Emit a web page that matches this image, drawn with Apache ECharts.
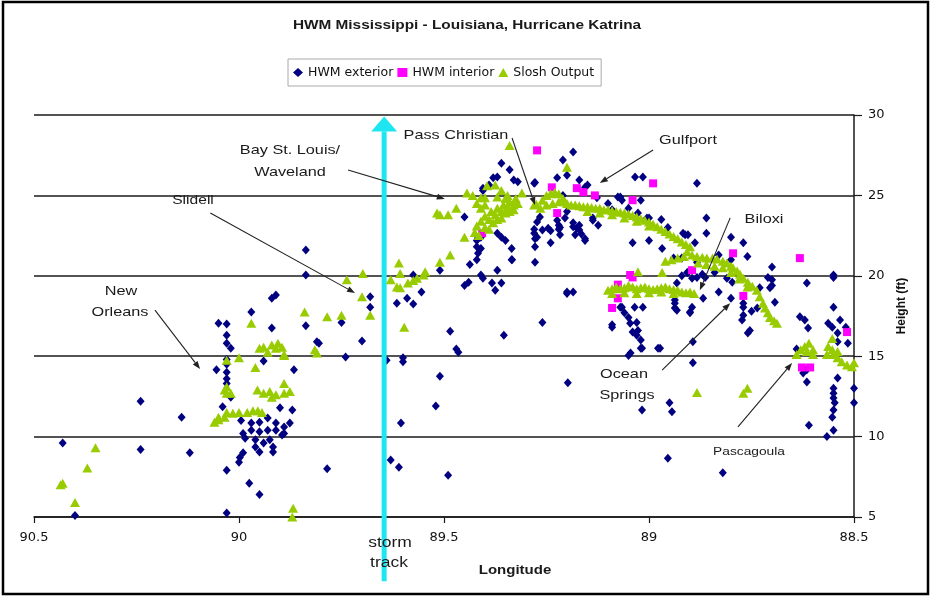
<!DOCTYPE html>
<html><head><meta charset="utf-8">
<script src="https://cdn.jsdelivr.net/npm/echarts@6/dist/echarts.min.js"></script>
<style>html,body{margin:0;padding:0;background:#fff}#c{width:932px;height:598px}</style>
</head><body><div id="c"></div>
<script>
// ---------- DATA ----------
const xTickValues = [90.5, 90, 89.5, 89, 88.5];
const yTickValues = [5, 10, 15, 20, 25, 30];

const hwmExterior = [
[90.43,9.6],[90.40,5.1],[90.24,12.2],[90.24,9.2],[90.14,11.2],[90.12,9.0],
[89.92,18.6],[89.91,18.8],[89.97,17.75],[90.05,17.05],[90.03,17.0],[89.92,16.75],[90.03,16.3],[90.03,15.8],[90.02,15.5],
[90.03,14.8],[90.03,14.5],[90.03,14.0],[90.03,13.6],[90.03,13.3],
[90.055,14.15],[89.94,14.7],[89.866,14.15],[89.837,16.9],[90.04,11.85],[90.02,12.45],[89.90,11.8],[89.87,11.65],
[89.995,11.0],[89.97,10.85],[89.95,10.9],[89.93,11.15],[89.91,10.85],[89.89,10.6],[89.876,10.85],[89.97,10.4],[89.95,10.3],[89.93,10.4],[89.91,10.4],[89.895,10.1],[89.99,10.2],[89.985,9.9],[89.96,9.8],[89.94,9.6],[89.925,9.8],[89.917,9.35],[89.96,9.35],[89.95,9.05],[89.99,9.0],[89.998,8.7],[90.0,8.4],[89.917,9.05],
[90.03,7.9],[89.975,7.1],[89.95,6.4],[90.03,5.25],[89.89,10.2],
[89.837,21.6],[89.837,20.05],[89.75,17.1],[89.81,15.9],[89.805,15.8],[89.70,15.95],[89.74,14.95],[89.68,18.7],[89.68,18.05],[89.785,8.0],[89.63,8.55],[89.61,8.1],[89.605,10.85],[89.60,14.65],[89.60,14.9],[89.615,18.3],[89.59,18.6],[89.575,18.25],[89.575,20.05],[89.555,19.0],[89.51,20.35],[89.485,16.55],[89.47,15.45],[89.465,15.25],[89.51,13.75],[89.52,11.9],[89.49,7.6],[89.64,14.75],
[89.45,23.65],[89.437,20.7],[89.42,21.0],[89.45,19.4],[89.44,19.6],[89.41,20.05],[89.405,19.85],[89.383,19.55],[89.36,19.55],[89.375,19.1],[89.37,20.35],[89.334,21.0],[89.354,16.3],[89.36,27.0],[89.34,26.6],[89.32,25.85],[89.33,25.95],[89.38,26.1],[89.405,25.45],[89.41,21.7],[89.417,22.35],[89.28,22.65],[89.278,20.85],[89.28,25.75],[89.37,26.15],[89.405,25.3],[89.39,25.65],[89.42,22.2],[89.41,22.4],[89.42,21.8],[89.417,21.4],[89.36,22.4],[89.35,22.2],[89.335,21.7],[89.335,21.0],[89.37,22.65],[89.266,23.65],[89.273,23.35],[89.26,22.85],[89.273,22.4],[89.28,22.9],[89.246,22.95],[89.22,23.15],[89.224,23.45],[89.24,22.05],[89.22,22.9],[89.24,22.8],[89.21,27.2],[89.20,18.9],[89.278,25.8],[89.278,21.8],[89.278,22.3],
[89.185,27.7],[89.20,26.25],[89.224,26.1],[89.17,25.95],[89.15,25.65],[89.07,24.9],[89.034,26.15],[89.015,26.15],[89.02,24.7],[89.005,23.6],[89.04,22.05],[89.0,22.2],[88.97,23.5],[89.10,24.5],[89.09,24.1],[89.137,23.6],[89.17,23.15],[89.185,23.05],[89.18,22.55],[89.165,22.6],[89.156,22.3],[89.217,23.0],[89.217,22.55],[89.20,19.0],[89.185,19.0],[89.26,17.1],[89.198,13.35],[89.017,11.65],[89.05,15.05],[89.09,16.8],[88.978,15.5],
[89.21,25.0],[89.20,24.0],[89.205,23.6],[89.156,25.5],[89.127,24.85],[89.076,24.9],[89.066,24.7],[89.05,24.2],[89.027,23.9],[89.0,23.6],[89.137,23.45],[89.124,23.15],[89.185,23.3],[89.176,22.95],[89.17,22.85],[89.156,22.2],[88.968,21.7],[88.954,23.0],[88.912,22.55],
[89.066,18.05],[89.06,17.7],[89.046,17.05],[89.03,17.1],[89.04,16.5],[89.027,16.6],[89.02,16.0],[89.017,15.5],[89.09,16.95],[88.973,15.5],[89.015,18.05],[88.937,18.5],[88.937,18.0],[88.907,20.2],[89.07,18.05],[89.05,17.4],[89.035,18.05],[89.03,16.3],[89.045,15.2],[89.02,15.5],
[88.95,12.1],[88.944,11.55],[88.954,8.65],[88.82,7.75],
[88.883,25.75],[88.905,22.55],[88.888,22.05],[88.86,23.6],[88.86,22.65],[88.80,22.4],[88.77,22.05],[88.94,21.1],[88.92,21.1],[88.883,20.85],[88.76,21.2],[88.70,20.55],[88.71,19.9],[88.70,19.4],[88.693,18.35],[88.905,20.2],[88.895,19.85],[88.883,19.9],[88.863,19.9],[88.83,21.3],[88.80,21.0],[88.92,20.0],[88.87,20.1],[88.84,20.2],[88.81,19.85],[88.797,19.6],[88.83,19.0],[88.80,18.6],[88.868,18.6],[88.895,18.05],[88.90,17.7],[88.77,18.05],[88.773,17.25],[88.759,16.45],[88.73,19.25],[88.705,19.25],[88.70,19.75],[88.736,18.0],[88.893,15.9],[88.893,14.6],[88.917,22.65],[88.932,19.55],[88.937,18.3],[88.932,17.85],[88.90,17.75],[88.77,17.55],[88.754,16.6],[88.77,18.3],[88.75,17.8],
[88.632,17.45],[88.62,17.25],[88.612,16.75],[88.615,19.55],[88.55,19.9],[88.55,18.05],[88.563,17.05],[88.553,16.8],[88.534,17.25],[88.52,16.8],[88.54,16.45],[88.54,15.9],[88.515,15.8],[88.624,13.95],[88.615,13.4],[88.615,14.15],[88.54,13.65],[88.55,13.0],[88.55,12.7],[88.55,12.4],[88.547,12.1],[88.55,11.65],[88.553,11.2],[88.55,10.4],[88.566,10.0],[88.61,10.7],[88.5,13.0],[88.5,12.1],[88.64,15.45],[88.55,20.05]
];

const hwmInterior = [
[89.273,27.8],[89.237,25.5],[89.224,23.9],[89.407,22.65],[89.176,25.45],[89.16,25.2],[89.132,25.0],[89.04,24.7],[88.99,25.75],
[89.046,20.05],[89.04,19.9],[89.076,19.45],[89.076,18.6],[89.09,18.0],[88.795,21.4],[88.77,18.75],[88.632,21.1],[88.517,16.5],[88.627,14.3],[88.607,14.3],[88.895,20.35]
];

const sloshOutput = [
[90.43,7.1],[90.435,7.0],[90.40,5.9],[90.37,8.05],[90.35,9.3],
[90.03,14.75],[90.0,14.9],[89.97,17.05],[89.84,17.75],[89.96,14.3],[89.95,15.5],[89.94,15.55],[89.92,15.7],[89.905,15.8],[89.89,15.1],[89.93,15.25],[89.91,15.5],[90.03,13.1],[90.03,12.7],[90.02,12.7],[90.035,12.9],[89.955,12.9],[89.94,12.7],[89.92,12.45],[89.91,12.6],[89.89,12.7],[89.89,13.3],[89.876,12.8],[89.925,12.8],[90.06,10.9],[90.05,11.05],[90.035,11.2],[90.03,11.5],[90.015,11.45],[90.0,11.5],[89.98,11.5],[89.966,11.6],[89.954,11.6],[89.944,11.5],[90.05,11.2],[89.868,5.55],[89.87,5.0],[89.895,15.55],[89.89,15.05],[89.815,15.4],[89.81,15.2],
[89.785,17.45],[89.75,17.55],[89.737,19.75],[89.698,20.15],[89.70,18.7],[89.68,17.55],[89.63,19.75],[89.61,20.8],[89.607,20.15],[89.615,19.3],[89.607,19.25],[89.588,19.55],[89.575,19.7],[89.566,19.85],[89.597,16.8],[89.546,20.25],[89.55,20.05],[89.51,20.85],[89.485,21.3],[89.517,23.9],[89.51,23.8],[89.49,23.8],[89.47,24.2],[89.45,22.4],[89.444,25.15],[89.43,25.0],[89.41,24.85],[89.40,24.85],[89.375,25.65],[89.34,28.1],[89.31,25.15],[89.28,24.4],
[89.425,22.7],[89.42,23.1],[89.41,23.4],[89.40,23.0],[89.415,22.5],[89.40,23.7],[89.39,23.5],[89.385,24.0],[89.375,23.8],[89.37,24.2],[89.36,24.0],[89.355,24.4],[89.345,24.3],[89.34,24.6],[89.33,24.4],[89.325,24.8],[89.32,24.5],[89.39,22.9],[89.38,23.3],[89.37,23.5],[89.36,23.6],[89.35,23.9],[89.34,24.0],[89.33,24.1],[89.41,24.2],[89.40,24.4],[89.37,24.9],[89.36,25.3],[89.35,24.8],[89.345,25.0],[89.395,25.6],[89.42,24.5],
[89.275,24.45],[89.26,24.7],[89.25,25.0],[89.24,25.1],[89.23,25.2],[89.22,25.1],[89.21,24.8],[89.205,24.6],[89.265,24.2],[89.25,24.4],[89.235,24.5],[89.22,24.6],[89.20,24.5],[89.19,24.4],[89.20,26.75],
[89.18,24.4],[89.17,24.35],[89.16,24.3],[89.15,24.3],[89.14,24.25],[89.13,24.2],[89.12,24.2],[89.11,24.1],[89.10,24.1],[89.09,24.05],[89.08,24.0],[89.07,23.95],[89.06,23.9],[89.05,23.85],[89.04,23.75],[89.03,23.65],[89.02,23.55],[89.01,23.45],[89.0,23.35],[88.99,23.2],[88.98,23.05],[88.97,22.9],[88.96,22.75],[88.95,22.6],[88.94,22.45],[88.93,22.3],[88.92,22.1],[88.91,21.95],[88.90,21.8],
[89.15,24.0],[89.12,23.9],[89.09,23.8],[89.06,23.6],[89.03,23.4],[89.0,23.1],
[88.907,21.5],[88.895,21.3],[88.883,21.2],[88.87,21.15],[88.859,21.1],[88.845,21.1],[88.834,21.05],[88.82,20.9],[88.81,20.8],[88.80,20.6],[88.795,20.5],[88.785,20.3],[88.778,20.1],[88.77,19.85],[88.759,19.6],[88.748,19.35],[88.737,19.1],[88.73,18.7],[88.722,18.3],[88.717,18.0],[88.71,17.7],[88.705,17.4],[88.695,17.2],[88.688,17.05],
[88.88,20.8],[88.86,20.7],[88.84,20.6],[88.82,20.5],[88.80,20.2],[88.78,19.8],[88.76,19.3],
[88.96,20.9],[88.945,21.0],[88.93,21.1],[88.915,21.2],[89.027,20.25],[88.968,20.2],
[89.10,19.1],[89.09,19.2],[89.08,19.3],[89.07,19.2],[89.06,19.25],[89.05,19.4],[89.04,19.3],[89.03,19.2],[89.02,19.25],[89.01,19.3],[89.0,19.2],[88.99,19.15],[88.98,19.2],[88.97,19.25],[88.96,19.3],[88.95,19.2],[88.94,19.15],[88.93,19.1],[88.92,19.0],[88.91,18.95],[88.90,19.0],[88.89,18.9],[89.09,18.9],[89.06,18.95],[89.03,18.9],[89.0,18.95],[88.97,19.0],[88.94,18.9],
[88.883,12.75],[88.77,12.7],[88.76,13.0],
[88.63,15.4],[88.62,15.6],[88.61,15.8],[88.60,15.4],[88.60,15.1],[88.64,15.1],[88.615,15.3],[88.553,16.1],[88.563,15.6],[88.566,15.1],[88.55,15.1],[88.54,14.9],[88.53,14.65],[88.517,14.45],[88.505,14.35],[88.50,14.6],[88.553,15.4],[88.54,15.3]
];

const stormTrackLon = 89.646;
// annotation arrows: from [lon, ft] to [lon, ft]
const annotationArrows = [
  [[90.205,17.87],[90.095,14.2]],
  [[90.07,23.9],[89.717,18.93]],
  [[89.734,26.58],[89.498,24.78]],
  [[89.334,28.57],[89.278,24.4]],
  [[88.99,27.82],[89.12,25.77]],
  [[88.802,23.6],[88.876,19.1]],
  [[88.968,14.14],[88.802,18.3]],
  [[88.783,10.6],[88.651,14.58]]
];

// ---------- CHART ----------
const chart = echarts.init(document.getElementById('c'), null, {renderer:'canvas'});
const AX = '#1a1a1a';
const SX = 1.25;
function txt(t, x, y, size, bold, extra) {
  return Object.assign({
    type:'text', x:x, y:y, scaleX:SX, z:100,
    style:{text:t, font:(bold?'bold ':'')+size+'px "Liberation Sans", Arial, sans-serif', fill:'#1a1a1a',
      textAlign:'center', textVerticalAlign:'middle', align:'center', verticalAlign:'middle'}
  }, extra||{});
}
const texts = [
  txt('HWM Mississippi - Louisiana, Hurricane Katrina', 467, 26, 12, true, {scaleX:1.28}),
  txt('New', 121, 291, 13), txt('Orleans', 120, 312, 13),
  txt('Slidell', 193, 200, 13, false, {scaleX:1.2}),
  txt('Bay St. Louis/', 290, 150, 13), txt('Waveland', 290, 172, 13),
  txt('Pass Christian', 456, 135, 13),
  txt('Gulfport', 688, 140, 13),
  txt('Biloxi', 764, 219, 13),
  txt('Ocean', 624, 374, 13), txt('Springs', 627, 395, 13),
  txt('Pascagoula', 749, 452, 11),
  txt('storm', 390, 543, 14), txt('track', 389, 563, 14),
  txt('Longitude', 515, 571, 12, true),
  {type:'text', x:902, y:306, rotation:Math.PI/2, z:100,
   style:{text:'Height (ft)', font:'bold 12px "Liberation Sans", Arial, sans-serif', fill:'#111',
     textAlign:'center', textVerticalAlign:'middle', align:'center', verticalAlign:'middle'}},
  {type:'rect', z:100, shape:{x:3, y:2, width:925, height:592}, style:{fill:'none', stroke:'#000', lineWidth:2.5}}
];

const option = {
  animation:false,
  backgroundColor:'#fff',
  grid:{left:34, right:78, top:115, bottom:81},
  legend:{
    left:288, top:59, padding:[7,7,7,5], itemGap:4, itemWidth:10, itemHeight:9,
    borderColor:'#aaa', borderWidth:1,
    textStyle:{fontFamily:'DejaVu Sans', fontSize:12.5, color:'#111'},
    data:['HWM exterior','HWM interior','Slosh Output']
  },
  xAxis:{
    type:'value', inverse:true, min:88.5, max:90.5, interval:0.5,
    axisLine:{show:true, onZero:false, lineStyle:{color:AX, width:1.5}},
    axisTick:{show:true, inside:false, length:6, lineStyle:{color:AX, width:1.2}},
    axisLabel:{margin:14, fontFamily:'DejaVu Sans', fontSize:13, color:'#111',
      formatter:function(v){ return xTickValues.indexOf(v) >= 0 ? String(v) : ''; }},
    splitLine:{show:false}
  },
  yAxis:{
    type:'value', position:'right', min:5, max:30, interval:5,
    axisLine:{show:true, lineStyle:{color:AX, width:1.5}},
    axisTick:{show:true, inside:false, length:8, lineStyle:{color:AX, width:1.2}},
    axisLabel:{margin:14, fontFamily:'DejaVu Sans', fontSize:13, color:'#111',
      formatter:function(v){ return yTickValues.indexOf(v) >= 0 ? String(v) : ''; }},
    splitLine:{show:true, lineStyle:{color:AX, width:1.6}}
  },
  series:[
    {name:'HWM exterior', type:'scatter', symbol:'diamond', symbolSize:[8,9], data:hwmExterior,
     itemStyle:{color:'#000080', opacity:1}, z:2},
    {name:'HWM interior', type:'scatter', symbol:'rect', symbolSize:8, data:hwmInterior,
     itemStyle:{color:'#ff00ff', opacity:1}, z:3},
    {name:'Slosh Output', type:'scatter', symbol:'triangle', symbolSize:[10,9], data:sloshOutput,
     itemStyle:{color:'#99cc00', opacity:1}, z:4}
  ],
  graphic:{elements:texts}
};
chart.setOption(option);

function arrowEls(p0, p1, color, lw, hl, hw, z) {
  const dx=p1[0]-p0[0], dy=p1[1]-p0[1], len=Math.hypot(dx,dy), ux=dx/len, uy=dy/len;
  const bx=p1[0]-ux*hl, by=p1[1]-uy*hl;
  return [
    {type:'line', z:z, shape:{x1:p0[0],y1:p0[1],x2:bx,y2:by}, style:{stroke:color,lineWidth:lw}},
    {type:'polygon', z:z, shape:{points:[[p1[0],p1[1]],[bx-uy*hw,by+ux*hw],[bx+uy*hw,by-ux*hw]]}, style:{fill:color}}
  ];
}
const conv = v => chart.convertToPixel({gridIndex:0}, v);
let extra = [];
// storm track arrow
const stBottom = conv([stormTrackLon, 1.0]);
const stTop = conv([stormTrackLon, 29.9]);
extra = extra.concat(arrowEls(stBottom, stTop, '#1ee6f0', 5, 15, 13, 90));
annotationArrows.forEach(a => { extra = extra.concat(arrowEls(conv(a[0]), conv(a[1]), '#222', 1.1, 8, 3, 95)); });
chart.setOption({graphic:{elements:texts.concat(extra)}});
</script></body></html>
